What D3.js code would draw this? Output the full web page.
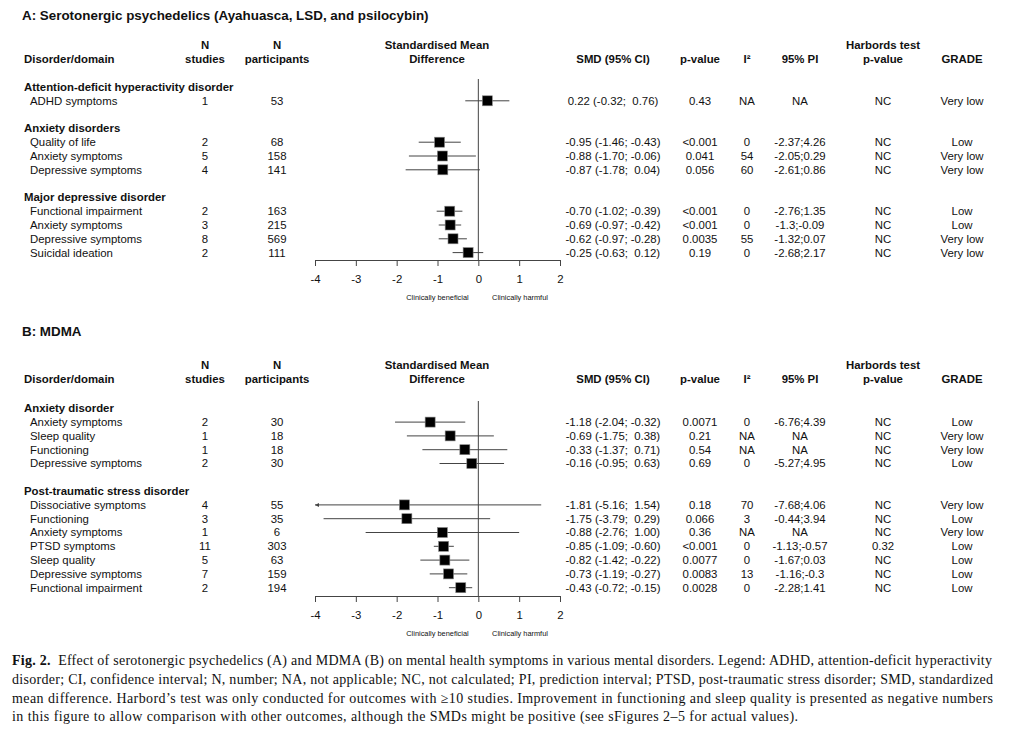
<!DOCTYPE html>
<html>
<head>
<meta charset="utf-8">
<script src="https://cdn.jsdelivr.net/npm/d3@7"></script>
<style>
  body { margin: 0; background: #fff; }
  svg { display: block; }
  text { white-space: pre; }
</style>
</head>
<body>
<svg id="chart" width="1024" height="731"></svg>
<script>
// ---------------- DATA ----------------
const tickValues = [-4, -3, -2, -1, 0, 1, 2];

// Panel A: Serotonergic psychedelics
const groupsA = ["Attention-deficit hyperactivity disorder", "Anxiety disorders", "Major depressive disorder"];
const groupOfA = [0, 1, 1, 1, 2, 2, 2, 2];
const domainsA = ["ADHD symptoms", "Quality of life", "Anxiety symptoms", "Depressive symptoms",
  "Functional impairment", "Anxiety symptoms", "Depressive symptoms", "Suicidal ideation"];
const nStudiesA = [1, 2, 5, 4, 2, 3, 8, 2];
const nPartA = [53, 68, 158, 141, 163, 215, 569, 111];
const smdA = [0.22, -0.95, -0.88, -0.87, -0.70, -0.69, -0.62, -0.25];
const lowA = [-0.32, -1.46, -1.70, -1.78, -1.02, -0.97, -0.97, -0.63];
const highA = [0.76, -0.43, -0.06, 0.04, -0.39, -0.42, -0.28, 0.12];
const pA = ["0.43", "<0.001", "0.041", "0.056", "<0.001", "<0.001", "0.0035", "0.19"];
const i2A = ["NA", "0", "54", "60", "0", "0", "55", "0"];
const piA = ["NA", "-2.37;4.26", "-2.05;0.29", "-2.61;0.86", "-2.76;1.35", "-1.3;-0.09", "-1.32;0.07", "-2.68;2.17"];
const harbA = ["NC", "NC", "NC", "NC", "NC", "NC", "NC", "NC"];
const gradeA = ["Very low", "Low", "Very low", "Very low", "Low", "Low", "Very low", "Very low"];

// Panel B: MDMA
const groupsB = ["Anxiety disorder", "Post-traumatic stress disorder"];
const groupOfB = [0, 0, 0, 0, 1, 1, 1, 1, 1, 1, 1];
const domainsB = ["Anxiety symptoms", "Sleep quality", "Functioning", "Depressive symptoms",
  "Dissociative symptoms", "Functioning", "Anxiety symptoms", "PTSD symptoms", "Sleep quality",
  "Depressive symptoms", "Functional impairment"];
const nStudiesB = [2, 1, 1, 2, 4, 3, 1, 11, 5, 7, 2];
const nPartB = [30, 18, 18, 30, 55, 35, 6, 303, 63, 159, 194];
const smdB = [-1.18, -0.69, -0.33, -0.16, -1.81, -1.75, -0.88, -0.85, -0.82, -0.73, -0.43];
const lowB = [-2.04, -1.75, -1.37, -0.95, -5.16, -3.79, -2.76, -1.09, -1.42, -1.19, -0.72];
const highB = [-0.32, 0.38, 0.71, 0.63, 1.54, 0.29, 1.00, -0.60, -0.22, -0.27, -0.15];
const pB = ["0.0071", "0.21", "0.54", "0.69", "0.18", "0.066", "0.36", "<0.001", "0.0077", "0.0083", "0.0028"];
const i2B = ["0", "NA", "NA", "0", "70", "3", "NA", "0", "0", "13", "0"];
const piB = ["-6.76;4.39", "NA", "NA", "-5.27;4.95", "-7.68;4.06", "-0.44;3.94", "NA", "-1.13;-0.57", "-1.67;0.03", "-1.16;-0.3", "-2.28;1.41"];
const harbB = ["NC", "NC", "NC", "NC", "NC", "NC", "NC", "0.32", "NC", "NC", "NC"];
const gradeB = ["Low", "Very low", "Very low", "Low", "Very low", "Low", "Very low", "Low", "Low", "Low", "Low"];

const captionLines = [
  ["Fig. 2.", "  Effect of serotonergic psychedelics (A) and MDMA (B) on mental health symptoms in various mental disorders. Legend: ADHD, attention-deficit hyperactivity"],
  ["", "disorder; CI, confidence interval; N, number; NA, not applicable; NC, not calculated; PI, prediction interval; PTSD, post-traumatic stress disorder; SMD, standardized"],
  ["", "mean difference. Harbord\u2019s test was only conducted for outcomes with \u226510 studies. Improvement in functioning and sleep quality is presented as negative numbers"],
  ["", "in this figure to allow comparison with other outcomes, although the SMDs might be positive (see sFigures 2\u20135 for actual values)."]
];

// ---------------- DRAW ----------------
const svg = d3.select("#chart");
const SANS = "'Liberation Sans', Arial, Helvetica, sans-serif";
const TXT = "#111";
const LINE = "#444";
const FS = 11.4;

const x = d3.scaleLinear().domain([-4, 2]).range([315, 560]);

const col = { group: 24, domain: 30, studies: 205, part: 277, smd: 613, p: 700, i2: 747, pi: 800, harb: 883, grade: 962 };

function num(v) { return (v < 0 ? "-" : "") + Math.abs(v).toFixed(2); }
function smdText(s, l, h) { return num(s) + " (" + num(l) + "; " + (h >= 0 ? " " : "") + num(h) + ")"; }

function panel(o) {
  const g = svg.append("g").attr("font-family", SANS).attr("fill", TXT);
  // title
  g.append("text").attr("x", 22).attr("y", o.titleY).attr("dy", "0.35em")
    .attr("font-size", 13.4).attr("font-weight", "bold").text(o.title);

  // headers
  const hb = g.append("g").attr("font-size", FS).attr("font-weight", "bold");
  const h1 = o.headY, h2 = o.headY + 14;
  const heads = [
    [col.group, h2, "Disorder/domain", "start"],
    [col.studies, h1, "N", "middle"], [col.studies, h2, "studies", "middle"],
    [col.part, h1, "N", "middle"], [col.part, h2, "participants", "middle"],
    [437, h1, "Standardised Mean", "middle"], [437, h2, "Difference", "middle"],
    [col.smd, h2, "SMD (95% CI)", "middle"],
    [col.p, h2, "p-value", "middle"],
    [col.i2, h2, "I\u00b2", "middle"],
    [col.pi, h2, "95% PI", "middle"],
    [col.harb, h1, "Harbords test", "middle"], [col.harb, h2, "p-value", "middle"],
    [col.grade, h2, "GRADE", "middle"]
  ];
  heads.forEach(h => hb.append("text").attr("x", h[0]).attr("y", h[1]).attr("dy", "0.35em")
    .attr("text-anchor", h[3]).text(h[2]));

  // slots
  const rows = [];
  const groupRows = [];
  let slot = 0;
  o.groups.forEach((name, gi) => {
    groupRows.push({ name, slot });
    slot++;
    o.groupOf.forEach((gg, i) => { if (gg === gi) { rows.push({ i, slot }); slot++; } });
    slot++;
  });
  const y = d3.scaleLinear().domain([0, 1]).range([o.firstY, o.firstY + 13.8]);

  g.selectAll(".grp").data(groupRows).join("text")
    .attr("x", col.group).attr("y", d => y(d.slot)).attr("dy", "0.35em")
    .attr("font-size", FS).attr("font-weight", "bold").text(d => d.name);

  const cells = [
    [col.domain, "start", d => o.domains[d.i]],
    [col.studies, "middle", d => o.nStudies[d.i]],
    [col.part, "middle", d => o.nPart[d.i]],
    [col.smd, "middle", d => smdText(o.smd[d.i], o.low[d.i], o.high[d.i])],
    [col.p, "middle", d => o.p[d.i]],
    [col.i2, "middle", d => o.i2[d.i]],
    [col.pi, "middle", d => o.pi[d.i]],
    [col.harb, "middle", d => o.harb[d.i]],
    [col.grade, "middle", d => o.grade[d.i]]
  ];
  cells.forEach(c => {
    g.append("g").selectAll("text").data(rows).join("text")
      .attr("x", c[0]).attr("y", d => y(d.slot)).attr("dy", "0.35em")
      .attr("text-anchor", c[1]).attr("font-size", FS).text(c[2]);
  });

  // forest plot
  const f = g.append("g");
  f.append("line").attr("x1", x(0)).attr("x2", x(0)).attr("y1", o.zeroTop).attr("y2", o.axisY)
    .attr("stroke", LINE).attr("stroke-width", 1);

  const [dmin, dmax] = x.domain();
  f.selectAll(".ci").data(rows).join("line")
    .attr("x1", d => x(Math.max(dmin, o.low[d.i]))).attr("x2", d => x(Math.min(dmax, o.high[d.i])))
    .attr("y1", d => y(d.slot)).attr("y2", d => y(d.slot))
    .attr("stroke", LINE).attr("stroke-width", 1);
  // arrowheads for truncated CIs
  f.selectAll(".arr").data(rows.filter(d => o.low[d.i] < dmin)).join("path")
    .attr("d", d => { const x0 = x(dmin), yy = y(d.slot); return `M${x0},${yy}L${x0 + 4},${yy - 2}L${x0 + 4},${yy + 2}Z`; })
    .attr("fill", LINE);
  const s = 10;
  f.selectAll(".sq").data(rows).join("rect")
    .attr("x", d => x(o.smd[d.i]) - s / 2).attr("y", d => y(d.slot) - s / 2)
    .attr("width", s).attr("height", s).attr("fill", "#000").attr("stroke", "#888").attr("stroke-width", 0.6);

  const ax = f.append("g").attr("transform", `translate(0,${o.axisY})`)
    .call(d3.axisBottom(x).tickValues(tickValues).tickSize(6).tickPadding(9)
      .tickFormat(d => (d < 0 ? "-" : "") + Math.abs(d)));
  ax.select(".domain").attr("stroke", LINE);
  ax.selectAll(".tick line").attr("stroke", LINE);
  ax.selectAll(".tick text").attr("font-size", 11.4).attr("font-family", SANS).attr("fill", TXT);

  f.append("text").attr("x", 437.5).attr("y", o.clinY).attr("dy", "0.35em").attr("text-anchor", "middle")
    .attr("font-size", 7.4).text("Clinically beneficial");
  f.append("text").attr("x", 520).attr("y", o.clinY).attr("dy", "0.35em").attr("text-anchor", "middle")
    .attr("font-size", 7.4).text("Clinically harmful");
}

panel({
  title: "A: Serotonergic psychedelics (Ayahuasca, LSD, and psilocybin)", titleY: 15, headY: 45,
  firstY: 87, zeroTop: 79, axisY: 260, clinY: 297,
  groups: groupsA, groupOf: groupOfA, domains: domainsA, nStudies: nStudiesA, nPart: nPartA,
  smd: smdA, low: lowA, high: highA, p: pA, i2: i2A, pi: piA, harb: harbA, grade: gradeA
});
panel({
  title: "B: MDMA", titleY: 331.5, headY: 365.3,
  firstY: 408.3, zeroTop: 401, axisY: 596, clinY: 633,
  groups: groupsB, groupOf: groupOfB, domains: domainsB, nStudies: nStudiesB, nPart: nPartB,
  smd: smdB, low: lowB, high: highB, p: pB, i2: i2B, pi: piB, harb: harbB, grade: gradeB
});

// caption
const cap = svg.append("g").attr("font-family", "'Liberation Serif', 'Times New Roman', serif")
  .attr("font-size", 14).attr("fill", "#111");
const capY = [664.5, 683.5, 702.5, 720.5];
const capLen = [980, 981, 981, 786];
captionLines.forEach((ln, i) => {
  const t = cap.append("text").attr("x", 12).attr("y", capY[i])
    .attr("textLength", capLen[i]).attr("lengthAdjust", "spacing");
  if (ln[0]) t.append("tspan").attr("font-weight", "bold").text(ln[0]);
  t.append("tspan").text(ln[1]);
});
</script>
</body>
</html>
